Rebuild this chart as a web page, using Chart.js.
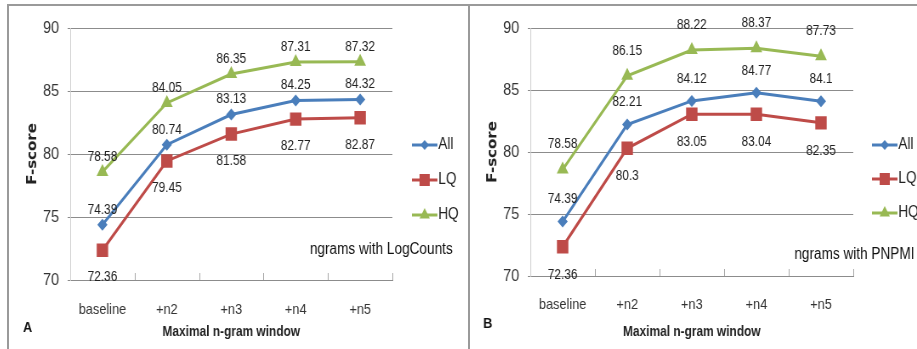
<!DOCTYPE html>
<html lang="en">
<head>
    <meta charset="UTF-8">
    <title>F-score by maximal n-gram window</title>
    <script src="https://cdn.jsdelivr.net/npm/chart.js"></script>
    <style>
        body { margin: 0; background: #fff; }
        #wrap { position: relative; width: 917px; height: 349px; overflow: hidden; }
        .rule { position: absolute; background: #9a9a9a; }
        canvas { position: absolute; top: 0; }
    </style>
</head>
<body>
    <div id="wrap">
        <!-- the source figure is a horizontally squeezed Excel chart, so each canvas is drawn wider and shown narrower -->
        <canvas id="chartA" width="540" height="349" style="left:9px;width:459px;height:349px"></canvas>
        <canvas id="chartB" width="526" height="349" style="left:470px;width:447px;height:349px"></canvas>
        <div class="rule" style="left:7px;top:4px;width:910px;height:2px"></div>
        <div class="rule" style="left:7px;top:4px;width:2px;height:345px"></div>
        <div class="rule" style="left:468px;top:4px;width:2px;height:345px"></div>
    </div>
    <script>
        const categories = ['baseline', '+n2', '+n3', '+n4', '+n5'];
        const seriesNames = ['All', 'LQ', 'HQ'];

        const logCountsAll = [74.39, 80.74, 83.13, 84.25, 84.32];
        const logCountsLQ = [72.36, 79.45, 81.58, 82.77, 82.87];
        const logCountsHQ = [78.58, 84.05, 86.35, 87.31, 87.32];

        const pnpmiAll = [74.39, 82.21, 84.12, 84.77, 84.1];
        const pnpmiLQ = [72.36, 80.3, 83.05, 83.04, 82.35];
        const pnpmiHQ = [78.58, 86.15, 88.22, 88.37, 87.73];

        const yMin = 70, yMax = 90, yStep = 5;

        const FONT = '"Liberation Sans", Arial, sans-serif';

        const seriesStyle = {
            All: { color: '#4a7ebb', pointStyle: 'rectRot', radius: 6 },
            LQ: { color: '#be4b48', pointStyle: 'rect', radius: 9.5 },
            HQ: { color: '#98b954', pointStyle: 'triangle', radius: 8 }
        };

        // draws value labels, inner x ticks, legend, note and panel letter
        const decorations = {
            id: 'decorations',
            afterDraw(chart, args, opts) {
                const ctx = chart.ctx;
                const area = chart.chartArea;
                ctx.save();

                // small category separators pointing up from the x axis
                ctx.strokeStyle = '#a6a6a6';
                ctx.lineWidth = 1;
                const step = (area.right - area.left) / categories.length;
                for (let i = 1; i <= categories.length; i++) {
                    const x = Math.round(area.left + i * step) + 0.5;
                    ctx.beginPath();
                    ctx.moveTo(x, area.bottom);
                    ctx.lineTo(x, area.bottom - 7);
                    ctx.stroke();
                }

                // value labels
                ctx.fillStyle = '#222';
                ctx.font = '14px ' + FONT;
                ctx.textAlign = 'center';
                ctx.textBaseline = 'middle';
                chart.data.datasets.forEach((ds, i) => {
                    const meta = chart.getDatasetMeta(i);
                    meta.data.forEach((pt, j) => {
                        ctx.fillText(String(ds.data[j]), pt.x, pt.y + opts.labelOffsets[ds.label]);
                    });
                });

                // legend
                chart.data.datasets.forEach((ds, i) => {
                    const st = seriesStyle[ds.label];
                    const y = opts.legendTop + i * opts.legendGap;
                    const x0 = opts.legendX, x1 = opts.legendX + 30;
                    ctx.strokeStyle = st.color;
                    ctx.lineWidth = 3;
                    ctx.beginPath();
                    ctx.moveTo(x0, y);
                    ctx.lineTo(x1, y);
                    ctx.stroke();
                    ctx.fillStyle = st.color;
                    Chart.helpers.drawPoint(ctx, { pointStyle: st.pointStyle, radius: st.radius - 1, rotation: 0, borderWidth: 0 }, (x0 + x1) / 2, y);
                    ctx.fillStyle = '#222';
                    ctx.font = '16px ' + FONT;
                    ctx.textAlign = 'left';
                    ctx.fillText(ds.label, x1 + 1, y);
                });

                // note
                ctx.fillStyle = '#111';
                ctx.font = '16px ' + FONT;
                ctx.textAlign = 'right';
                ctx.fillText(opts.note, opts.noteX, opts.noteY);

                // panel letter
                ctx.font = 'bold 15px ' + FONT;
                ctx.textAlign = 'center';
                ctx.fillText(opts.letter, opts.letterX, opts.letterY);

                ctx.restore();
            }
        };

        function makeChart(canvasId, all, lq, hq, panel) {
            const values = { All: all, LQ: lq, HQ: hq };
            const datasets = seriesNames.map(name => ({
                label: name,
                data: values[name],
                borderColor: seriesStyle[name].color,
                backgroundColor: seriesStyle[name].color,
                borderWidth: 3,
                pointStyle: seriesStyle[name].pointStyle,
                pointRadius: seriesStyle[name].radius,
                pointHoverRadius: seriesStyle[name].radius,
                pointBorderWidth: 0,
                tension: 0,
                fill: false
            }));

            return new Chart(document.getElementById(canvasId), {
                type: 'line',
                data: { labels: categories, datasets: datasets },
                plugins: [decorations],
                options: {
                    responsive: false,
                    animation: false,
                    devicePixelRatio: 1,
                    layout: { padding: { left: 0, right: panel.padRight, top: panel.top, bottom: 0 } },
                    plugins: {
                        legend: { display: false },
                        tooltip: { enabled: false },
                        decorations: panel
                    },
                    scales: {
                        x: {
                            offset: true,
                            grid: { display: false, drawTicks: false },
                            border: { display: true, color: '#8c8c8c', width: 1 },
                            ticks: { color: '#333', padding: panel.xTickPad, font: { size: 15, family: FONT } },
                            title: {
                                display: true,
                                text: 'Maximal n-gram window',
                                color: '#222',
                                padding: { top: 0, bottom: 8 },
                                font: { size: 14, weight: 'bold', family: FONT }
                            },
                            afterFit: s => { s.height = panel.xHeight; }
                        },
                        y: {
                            min: yMin,
                            max: yMax,
                            ticks: { stepSize: yStep, color: '#333', padding: 10, font: { size: 17, family: FONT } },
                            grid: { color: '#8c8c8c', lineWidth: 1, tickLength: 3 },
                            border: { display: true, color: '#d0d0d0', width: 1 },
                            title: {
                                display: true,
                                text: 'F-score',
                                color: '#222',
                                padding: { top: panel.yTitlePad, bottom: 0 },
                                font: { size: 15, weight: 'bold', family: '"DejaVu Sans", sans-serif' }
                            },
                            afterFit: s => { s.width = panel.yWidth; }
                        }
                    }
                }
            });
        }

        makeChart('chartA', logCountsAll, logCountsLQ, logCountsHQ, {
            padRight: 89, top: 28, xHeight: 69, yWidth: 72, xTickPad: 21, yTitlePad: 19,
            labelOffsets: { All: -15, LQ: 27, HQ: -15 },
            legendX: 474, legendTop: 145, legendGap: 35,
            note: 'ngrams with LogCounts', noteX: 522, noteY: 250,
            letter: 'A', letterX: 22, letterY: 328
        });

        makeChart('chartB', pnpmiAll, pnpmiLQ, pnpmiHQ, {
            padRight: 75, top: 28, xHeight: 73, yWidth: 71, xTickPad: 20, yTitlePad: 18,
            labelOffsets: { All: -22, LQ: 28, HQ: -25 },
            legendX: 473, legendTop: 145, legendGap: 34,
            note: 'ngrams with PNPMI', noteX: 523, noteY: 255,
            letter: 'B', letterX: 21, letterY: 324
        });
    </script>
</body>
</html>
